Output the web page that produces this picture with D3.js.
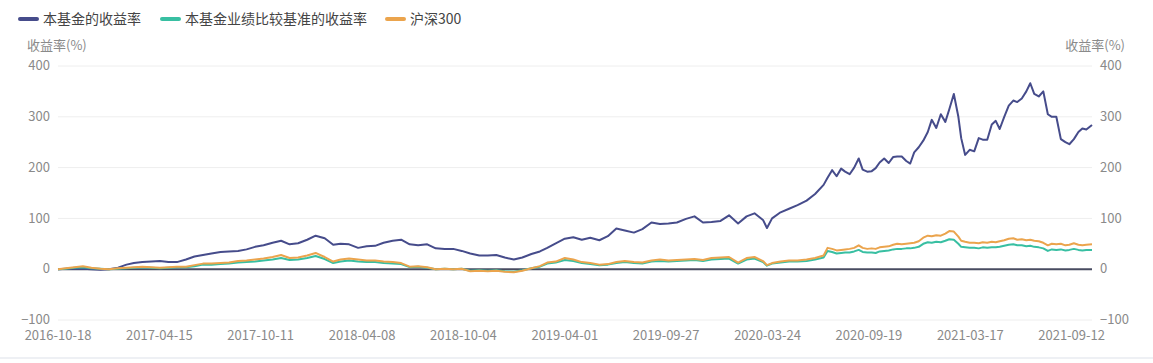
<!DOCTYPE html>
<html>
<head>
<meta charset="utf-8">
<script src="https://cdn.jsdelivr.net/npm/d3@7"></script>
<style>
  body { margin: 0; background: #fff; }
  svg { display: block; font-family: "Microsoft YaHei", "Noto Sans CJK SC", "Noto Sans", sans-serif; }
</style>
</head>
<body>
<svg></svg>
<script>
// sample dates (semi-monthly, weekly from mid 2020)
const dates = [
  '2016-10-18', '2016-11-01', '2016-11-16', '2016-12-01', '2016-12-16',
  '2017-01-01', '2017-01-16', '2017-02-01', '2017-02-16', '2017-03-01', '2017-03-16', '2017-04-01', '2017-04-16',
  '2017-05-01', '2017-05-16', '2017-06-01', '2017-06-16', '2017-07-01', '2017-07-16', '2017-08-01', '2017-08-16',
  '2017-09-01', '2017-09-16', '2017-10-01', '2017-10-16', '2017-11-01', '2017-11-16', '2017-12-01', '2017-12-16',
  '2018-01-01', '2018-01-16', '2018-02-01', '2018-02-16', '2018-03-01', '2018-03-16', '2018-04-01', '2018-04-16',
  '2018-05-01', '2018-05-16', '2018-06-01', '2018-06-16', '2018-07-01', '2018-07-16', '2018-08-01', '2018-08-16',
  '2018-09-01', '2018-09-16', '2018-10-01', '2018-10-16', '2018-11-01', '2018-11-16', '2018-12-01', '2018-12-16',
  '2019-01-01', '2019-01-16', '2019-02-01', '2019-02-16', '2019-03-01', '2019-03-16', '2019-04-01', '2019-04-16',
  '2019-05-01', '2019-05-16', '2019-06-01', '2019-06-16', '2019-07-01', '2019-07-16', '2019-08-01', '2019-08-16',
  '2019-09-01', '2019-09-16', '2019-10-01', '2019-10-16', '2019-11-01', '2019-11-16', '2019-12-01', '2019-12-16',
  '2020-01-01', '2020-01-16', '2020-02-01', '2020-02-16', '2020-03-01', '2020-03-16', '2020-03-23', '2020-04-01',
  '2020-04-16', '2020-05-01', '2020-05-16', '2020-06-01', '2020-06-16',
  '2020-07-01', '2020-07-08', '2020-07-16', '2020-07-24', '2020-08-01', '2020-08-08', '2020-08-16', '2020-08-24',
  '2020-09-01', '2020-09-08', '2020-09-16', '2020-09-24', '2020-10-01', '2020-10-08', '2020-10-16', '2020-10-24',
  '2020-11-01', '2020-11-08', '2020-11-16', '2020-11-24', '2020-12-01', '2020-12-08', '2020-12-16', '2020-12-24',
  '2021-01-01', '2021-01-08', '2021-01-16', '2021-01-24', '2021-02-01', '2021-02-08', '2021-02-16', '2021-02-24',
  '2021-03-01', '2021-03-08', '2021-03-16', '2021-03-24', '2021-04-01', '2021-04-08', '2021-04-16', '2021-04-24',
  '2021-05-01', '2021-05-08', '2021-05-16', '2021-05-24', '2021-06-01', '2021-06-08', '2021-06-16', '2021-06-24',
  '2021-07-01', '2021-07-08', '2021-07-16', '2021-07-24', '2021-08-01', '2021-08-08', '2021-08-16', '2021-08-24',
  '2021-09-01', '2021-09-08', '2021-09-16', '2021-09-24', '2021-10-01', '2021-10-08', '2021-10-18'
];

// 本基金的收益率
const fundReturn = [
  0, 1, 1, 1, 0,
  -1, 0, 3, 9, 12, 14, 15, 16,
  14, 14, 19, 25, 28, 31, 34, 35,
  36, 39, 44, 47, 52, 56, 49, 51,
  58, 66, 61, 48, 50, 49, 42, 45,
  46, 52, 56, 58, 49, 47, 49, 41,
  40, 40, 36, 31, 27, 27, 28, 23,
  19, 23, 30, 35, 42, 51, 60, 63,
  58, 62, 57, 65, 80, 76, 72, 79,
  92, 89, 90, 92, 99, 104, 92, 93,
  95, 106, 90, 104, 110, 97, 81, 100,
  112, 119, 126, 135, 148,
  166, 180, 195, 183, 198, 192, 187, 200,
  218, 196, 192, 193, 199, 210, 218, 209,
  221, 222, 222, 213, 208, 230, 240, 253,
  270, 294, 278, 305, 290, 315, 345, 300,
  258, 225, 235, 232, 258, 255, 255, 285,
  292, 276, 300, 322, 332, 329, 336, 350,
  366, 345, 340, 350, 305, 300, 300, 256,
  250, 246, 256, 270, 277, 275, 284
];

// 本基金业绩比较基准的收益率
const benchReturn = [
  0, 1, 3, 4, 2,
  1, 0, 1, 2, 3, 4, 3, 2,
  3, 4, 4, 6, 9, 9, 10, 11,
  13, 14, 15, 17, 19, 22, 18, 19,
  22, 26, 20, 12, 15, 17, 15, 14,
  14, 12, 11, 10, 4, 5, 3, 0,
  1, 0, 1, -3, -2, -3, -2, -4,
  -5, -2, 2, 5, 11, 13, 18, 16,
  12, 10, 8, 9, 12, 14, 12, 11,
  15, 16, 15, 16, 17, 18, 16, 19,
  20, 21, 11, 19, 21, 14, 7, 11,
  13, 15, 15, 16, 19,
  23, 36, 34, 31, 32, 33, 33, 35,
  38, 34, 33, 33, 32, 35, 36, 37,
  39, 40, 40, 41, 41, 42, 44, 50,
  53, 52, 54, 53, 56, 59, 58, 50,
  44, 43, 42, 42, 41, 43, 42, 43,
  43, 44, 46, 48, 49, 47, 47, 45,
  46, 44, 43, 41, 36, 39, 38, 39,
  37, 38, 40, 38, 37, 38, 38
];

// 沪深300
const hs300Return = [
  0, 2, 4, 6, 3,
  1, 0, 2, 3, 4, 5, 4, 3,
  4, 5, 5, 8, 11, 11, 12, 13,
  16, 17, 19, 21, 24, 28, 22, 23,
  27, 32, 24, 15, 19, 21, 19, 17,
  17, 15, 14, 12, 5, 6, 4, 0,
  1, 0, 1, -4, -3, -4, -3, -5,
  -6, -3, 2, 6, 13, 15, 22, 19,
  14, 12, 9, 10, 14, 16, 14, 13,
  17, 19, 17, 18, 19, 20, 18, 22,
  23, 24, 13, 22, 24, 16, 8, 12,
  15, 17, 17, 19, 22,
  27, 42, 40, 37, 38, 39, 40, 42,
  47, 42, 40, 41, 40, 43, 44, 45,
  48, 50, 49, 50, 51, 52, 55, 62,
  66, 65, 67, 66, 70, 75, 74, 64,
  56, 54, 52, 52, 51, 53, 52, 54,
  53, 55, 57, 60, 61, 58, 59, 57,
  58, 56, 55, 52, 47, 50, 49, 50,
  47, 48, 51, 48, 47, 48, 49
];

const seriesNames = ['本基金的收益率', '本基金业绩比较基准的收益率', '沪深300'];
const seriesColors = ['#464c8b', '#38bfa2', '#eba44d'];
const yTicks = [-100, 0, 100, 200, 300, 400];
const xTickLabels = ['2016-10-18', '2017-04-15', '2017-10-11', '2018-04-08', '2018-10-04',
  '2019-04-01', '2019-09-27', '2020-03-24', '2020-09-19', '2021-03-17', '2021-09-12'];

const width = 1153;
const height = 363;
const margin = { top: 66, right: 61, bottom: 43, left: 58 };

const svg = d3.select('svg')
    .attr('width', width)
    .attr('height', height);

const parseDate = d3.timeParse('%Y-%m-%d');
const xDates = dates.map(parseDate);

const x = d3.scaleTime()
    .domain(d3.extent(xDates))
    .range([margin.left, width - margin.right]);

const y = d3.scaleLinear()
    .domain([-100, 400])
    .range([height - margin.bottom, margin.top]);

// grid lines
svg.append('g')
    .selectAll('line')
    .data(yTicks.filter(t => t !== 0))
    .enter().append('line')
    .attr('x1', margin.left)
    .attr('x2', width - margin.right)
    .attr('y1', d => y(d))
    .attr('y2', d => y(d))
    .attr('stroke', '#eeeeee')
    .attr('stroke-width', 1);

// left axis
const leftAxis = svg.append('g')
    .attr('transform', `translate(${margin.left},0)`)
    .call(d3.axisLeft(y).tickValues(yTicks).tickSize(0).tickPadding(8));
leftAxis.select('.domain').remove();

// right axis
const rightAxis = svg.append('g')
    .attr('transform', `translate(${width - margin.right},0)`)
    .call(d3.axisRight(y).tickValues(yTicks).tickSize(0).tickPadding(8));
rightAxis.select('.domain').remove();

svg.selectAll('.tick text')
    .attr('fill', '#8a8a8a')
    .attr('font-size', 13)
    .attr('dy', '0.28em')
    .style('font-family', '"Microsoft YaHei", "Noto Sans CJK SC", "Noto Sans", sans-serif');

// axis names
svg.append('text')
    .attr('x', 27).attr('y', 50)
    .attr('fill', '#8a8a8a').attr('font-size', 13)
    .text('收益率(%)');
svg.append('text')
    .attr('x', 1125).attr('y', 50)
    .attr('text-anchor', 'end')
    .attr('fill', '#8a8a8a').attr('font-size', 13)
    .text('收益率(%)');

// x labels
svg.append('g')
    .selectAll('text')
    .data(xTickLabels)
    .enter().append('text')
    .attr('x', d => x(parseDate(d)))
    .attr('y', height - margin.bottom + 20)
    .attr('text-anchor', 'middle')
    .attr('fill', '#8a8a8a')
    .attr('font-size', 13)
    .text(d => d);

// zero line (x axis)
svg.append('line')
    .attr('x1', margin.left)
    .attr('x2', width - margin.right)
    .attr('y1', y(0))
    .attr('y2', y(0))
    .attr('stroke', '#484b60')
    .attr('stroke-width', 2);

// series lines
const allSeries = [fundReturn, benchReturn, hs300Return];

const line = d3.line()
    .x((d, i) => x(xDates[i]))
    .y(d => y(d));

svg.append('g')
    .selectAll('path')
    .data(allSeries)
    .enter().append('path')
    .attr('d', d => line(d))
    .attr('fill', 'none')
    .attr('stroke', (d, i) => seriesColors[i])
    .attr('stroke-width', 2)
    .attr('stroke-linejoin', 'round');

// legend
const legendX = [20, 162, 387];
const legend = svg.append('g')
    .selectAll('g')
    .data(seriesNames)
    .enter().append('g')
    .attr('transform', (d, i) => `translate(${legendX[i]},19)`);

legend.append('line')
    .attr('x1', 0).attr('x2', 17)
    .attr('y1', 0).attr('y2', 0)
    .attr('stroke', (d, i) => seriesColors[i])
    .attr('stroke-width', 4)
    .attr('stroke-linecap', 'round');

legend.append('text')
    .attr('x', 23)
    .attr('y', 5)
    .attr('fill', '#444')
    .attr('font-size', 14)
    .text(d => d);

// bottom border
svg.append('line')
    .attr('x1', 0).attr('x2', width)
    .attr('y1', 358).attr('y2', 358)
    .attr('stroke', '#eef0f4')
    .attr('stroke-width', 2);
</script>
</body>
</html>
